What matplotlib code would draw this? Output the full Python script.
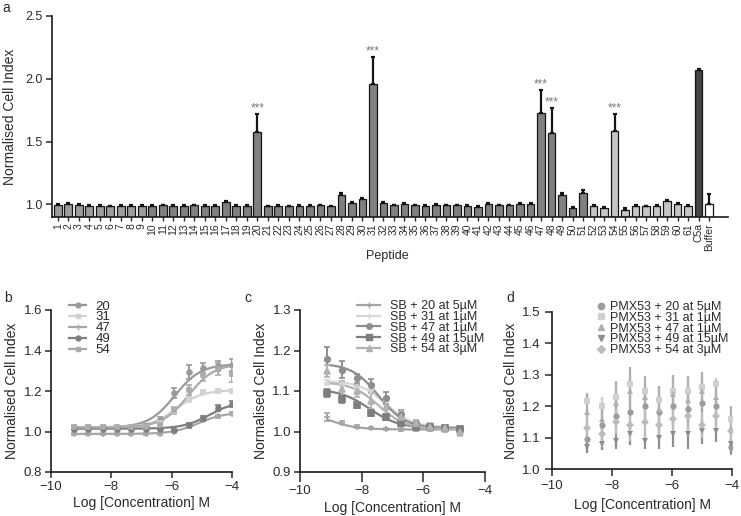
import numpy as np
import matplotlib
matplotlib.use("Agg")
import matplotlib.pyplot as plt

plt.rcParams['font.family'] = ['Liberation Sans', 'DejaVu Sans']
TXT = '#2a2a2a'
plt.rcParams['text.color'] = TXT
plt.rcParams['axes.labelcolor'] = TXT
plt.rcParams['xtick.color'] = TXT
plt.rcParams['ytick.color'] = TXT

# ---------------- panel a data ----------------
peptides = [str(i) for i in range(1, 62)] + ['C5a', 'Buffer']
cell_index = [0.997, 1.000, 0.997, 0.987, 0.987, 0.984, 0.987, 0.989, 0.989, 0.987,
              0.992, 0.989, 0.987, 0.992, 0.989, 0.989, 1.019, 0.989, 0.989, 1.575,
              0.984, 0.989, 0.984, 0.989, 0.987, 0.992, 0.984, 1.072, 1.011, 1.040,
              1.957, 1.013, 0.992, 1.000, 0.992, 0.987, 0.997, 0.992, 0.992, 0.987,
              0.981, 1.000, 0.992, 0.992, 1.003, 1.005, 1.730, 1.570, 1.072, 0.973,
              1.093, 0.990, 0.970, 1.585, 0.958, 0.984, 0.984, 0.990, 1.027, 1.000,
              0.990, 2.070, 1.005]
cell_err = [0.008, 0.008, 0.008, 0.006, 0.006, 0.006, 0.006, 0.006, 0.006, 0.006,
            0.006, 0.006, 0.006, 0.006, 0.006, 0.006, 0.008, 0.006, 0.006, 0.145,
            0.006, 0.006, 0.006, 0.006, 0.006, 0.006, 0.006, 0.016, 0.008, 0.010,
            0.220, 0.008, 0.006, 0.008, 0.006, 0.006, 0.008, 0.006, 0.006, 0.006,
            0.006, 0.008, 0.006, 0.006, 0.008, 0.008, 0.180, 0.200, 0.018, 0.010,
            0.025, 0.008, 0.008, 0.135, 0.010, 0.008, 0.006, 0.008, 0.010, 0.008,
            0.006, 0.010, 0.075]
significant = ['20', '31', '47', '48', '54']

# ---------------- panel b data ----------------
b_logc = [-9.25, -8.77, -8.29, -7.82, -7.34, -6.86, -6.39, -5.91, -5.43, -4.95, -4.48, -4.00]
b_labels = ['20', '31', '47', '49', '54']
b_20 = [1.020, 1.020, 1.020, 1.020, 1.020, 1.025, 1.055, 1.190, 1.295, 1.315, 1.325, 1.330]
b_31 = [1.020, 1.020, 1.020, 1.020, 1.020, 1.020, 1.040, 1.100, 1.160, 1.195, 1.200, 1.200]
b_47 = [0.988, 0.988, 0.988, 0.988, 0.988, 0.988, 0.990, 1.000, 1.025, 1.058, 1.075, 1.088]
b_49 = [1.014, 1.014, 1.014, 1.014, 1.014, 1.014, 1.012, 1.005, 1.030, 1.065, 1.115, 1.135]
b_54 = [1.020, 1.020, 1.020, 1.020, 1.020, 1.020, 1.030, 1.105, 1.205, 1.280, 1.310, 1.285]
b_20_err = [0.008, 0.008, 0.008, 0.008, 0.008, 0.010, 0.015, 0.025, 0.035, 0.025, 0.025, 0.030]
b_31_err = [0.006, 0.006, 0.006, 0.006, 0.006, 0.006, 0.008, 0.012, 0.015, 0.012, 0.012, 0.012]
b_47_err = [0.005, 0.005, 0.005, 0.005, 0.005, 0.005, 0.005, 0.006, 0.008, 0.008, 0.008, 0.008]
b_49_err = [0.006, 0.006, 0.006, 0.006, 0.006, 0.006, 0.006, 0.008, 0.010, 0.012, 0.015, 0.015]
b_54_err = [0.008, 0.008, 0.008, 0.008, 0.008, 0.008, 0.012, 0.018, 0.025, 0.030, 0.030, 0.040]
# fitted sigmoid parameters (bottom, top, logEC50, hill)
b_fit = [(1.020, 1.333, -5.90, 1.0), (1.020, 1.205, -5.85, 1.0), (0.988, 1.095, -5.10, 1.0),
         (1.014, 1.150, -4.75, 1.0), (1.020, 1.335, -5.45, 1.0)]

# ---------------- panel c data ----------------
c_logc = [-9.12, -8.64, -8.16, -7.69, -7.21, -6.73, -6.25, -5.78, -5.30, -4.82]
c_labels = ['SB + 20 at 5µM', 'SB + 31 at 1µM', 'SB + 47 at 1µM', 'SB + 49 at 15µM', 'SB + 54 at 3µM']
c_20 = [1.035, 1.022, 1.012, 1.008, 1.006, 1.005, 1.005, 1.005, 1.005, 1.005]
c_31 = [1.120, 1.118, 1.110, 1.100, 1.075, 1.045, 1.022, 1.012, 1.010, 1.008]
c_47 = [1.178, 1.153, 1.131, 1.115, 1.082, 1.044, 1.020, 1.010, 1.008, 1.005]
c_49 = [1.095, 1.080, 1.065, 1.045, 1.035, 1.020, 1.012, 1.010, 1.008, 1.005]
c_54 = [1.150, 1.105, 1.100, 1.075, 1.060, 1.035, 1.020, 1.012, 1.008, 1.000]
c_20_err = [0.010, 0.003, 0.003, 0.003, 0.003, 0.003, 0.003, 0.003, 0.003, 0.003]
c_31_err = [0.006, 0.006, 0.006, 0.006, 0.006, 0.006, 0.005, 0.005, 0.005, 0.005]
c_47_err = [0.030, 0.020, 0.012, 0.015, 0.015, 0.008, 0.006, 0.006, 0.006, 0.005]
c_49_err = [0.010, 0.010, 0.006, 0.006, 0.006, 0.006, 0.005, 0.005, 0.005, 0.005]
c_54_err = [0.015, 0.020, 0.015, 0.020, 0.020, 0.010, 0.008, 0.008, 0.008, 0.012]
# fitted sigmoid parameters (plateau at low conc, plateau at high conc, logIC50, hill)
c_fit = [(1.048, 1.005, -9.00, 1.0), (1.125, 1.010, -7.20, 1.0), (1.168, 1.008, -7.45, 1.0),
         (1.105, 1.008, -7.75, 0.9), (1.122, 1.006, -7.45, 1.0)]

# ---------------- panel d data ----------------
d_logc = [-8.82, -8.34, -7.87, -7.39, -6.91, -6.43, -5.96, -5.48, -5.00, -4.53, -4.05]
d_labels = ['PMX53 + 20 at 5µM', 'PMX53 + 31 at 1µM', 'PMX53 + 47 at 1µM',
            'PMX53 + 49 at 15µM', 'PMX53 + 54 at 3µM']
d_20 = [1.097, 1.140, 1.170, 1.180, 1.200, 1.180, 1.200, 1.190, 1.210, 1.200, 1.070]
d_31 = [1.215, 1.200, 1.230, 1.270, 1.250, 1.220, 1.250, 1.250, 1.260, 1.270, 1.160]
d_47 = [1.183, 1.160, 1.210, 1.250, 1.230, 1.190, 1.240, 1.220, 1.250, 1.230, 1.130]
d_49 = [1.070, 1.080, 1.090, 1.110, 1.090, 1.100, 1.110, 1.110, 1.120, 1.120, 1.080]
d_54 = [1.130, 1.110, 1.150, 1.140, 1.150, 1.140, 1.160, 1.170, 1.140, 1.170, 1.120]
d_20_err = [0.040, 0.050, 0.050, 0.070, 0.060, 0.060, 0.060, 0.060, 0.060, 0.060, 0.025]
d_31_err = [0.025, 0.030, 0.050, 0.045, 0.045, 0.045, 0.050, 0.045, 0.050, 0.020, 0.040]
d_47_err = [0.060, 0.050, 0.070, 0.075, 0.065, 0.075, 0.060, 0.075, 0.060, 0.055, 0.070]
d_49_err = [0.020, 0.020, 0.025, 0.035, 0.025, 0.035, 0.040, 0.045, 0.040, 0.035, 0.030]
d_54_err = [0.040, 0.040, 0.040, 0.050, 0.050, 0.040, 0.050, 0.050, 0.040, 0.040, 0.040]


def hill(x, lo, hi, logec, h):
    return lo + (hi - lo) / (1.0 + 10.0 ** ((logec - x) * h))


fig = plt.figure(figsize=(7.41, 5.16), dpi=100)

def style_axes(ax, lw=1.1):
    for s in ['top', 'right']:
        ax.spines[s].set_visible(False)
    for s in ['left', 'bottom']:
        ax.spines[s].set_linewidth(lw)
        ax.spines[s].set_color('#1a1a1a')

LEG_FS = 9
LEG_LS = -0.1
LAB_FS = 10

# ================= panel a =================
axa = fig.add_axes([52/741, 1-217/516, (728-52)/741, (217-16)/516])
x = np.arange(len(peptides))
bar_colors = []
for i, p in enumerate(peptides):
    if p == 'C5a':
        bar_colors.append('#454545')
    elif p == 'Buffer':
        bar_colors.append('#ffffff')
    elif i < 9:
        bar_colors.append('#9c9c9c')
    elif i < 51:
        bar_colors.append('#808080')
    else:
        bar_colors.append('#c6c6c6')
vals = np.array(cell_index)
errs = np.array(cell_err)
axa.bar(x, vals - 0.9, bottom=0.9, width=0.74, color=bar_colors,
        edgecolor='#151515', linewidth=0.9, zorder=2)
axa.errorbar(x, vals, yerr=[np.zeros_like(errs), errs], fmt='none',
             ecolor='#151515', elinewidth=1.6, capsize=1.6, capthick=1.6, zorder=3)
for p in significant:
    i = peptides.index(p)
    axa.text(i, vals[i] + errs[i] + 0.018, '***', ha='center', va='baseline',
             color='#7a7a7a', fontsize=8.5)
axa.set_xlim(-0.55, 63.8)
axa.set_ylim(0.9, 2.5)
axa.set_yticks([1.0, 1.5, 2.0, 2.5])
axa.set_yticklabels(['1.0', '1.5', '2.0', '2.5'], fontsize=9)
axa.set_xticks(x)
axa.set_xticklabels(peptides, rotation=90, fontsize=7.5)
axa.tick_params(axis='x', length=3, width=1, pad=1.5)
axa.tick_params(axis='y', length=4, width=1.1, pad=3)
style_axes(axa, 1.2)
axa.set_ylabel('Normalised Cell Index', fontsize=LAB_FS, labelpad=6)
axa.set_xlabel('Peptide', fontsize=9)
axa.xaxis.set_label_coords(0.496, -0.165)
fig.text(2/741, 1-1/516, 'a', fontsize=10, va='top', ha='left')

# ================= panel b =================
axb = fig.add_axes([51/741, 1-472/516, 181/741, 162/516])
b_series = [b_20, b_31, b_47, b_49, b_54]
b_errs = [b_20_err, b_31_err, b_47_err, b_49_err, b_54_err]
b_colors = ['#9a9a9a', '#d2d2d2', '#a6a6a6', '#7e7e7e', '#ababab']
b_markers = ['o', 's', '+', 'o', 's']
b_msize = [3.5, 2.5, 4, 3.5, 3.5]
xx_b = np.linspace(min(b_logc), max(b_logc), 200)
for ys, es, c, m, ms, fp, lab in zip(b_series, b_errs, b_colors, b_markers, b_msize, b_fit, b_labels):
    axb.errorbar(b_logc, ys, yerr=es, fmt=m, color=c, ms=ms, mew=1.2,
                 elinewidth=1.4, capsize=2.2, capthick=1.4, zorder=3)
    axb.plot(xx_b, hill(xx_b, *fp), color=c, lw=1.6, zorder=2)
    axb.plot([], [], color=c, marker=m, ms=ms, lw=1.6, label=lab)
axb.set_xlim(-10, -4)
axb.set_ylim(0.8, 1.6)
axb.set_xticks([-10, -8, -6, -4])
axb.set_yticks([0.8, 1.0, 1.2, 1.4, 1.6])
axb.set_yticklabels(['0.8', '1.0', '1.2', '1.4', '1.6'])
axb.tick_params(labelsize=9.5, length=4, width=1.1, pad=2.5)
style_axes(axb, 1.2)
axb.set_ylabel('Normalised Cell Index', fontsize=LAB_FS, labelpad=3)
axb.set_xlabel('Log [Concentration] M', fontsize=LAB_FS, labelpad=2)
axb.legend(loc='upper left', bbox_to_anchor=(0.10, 1.06), frameon=False, fontsize=LEG_FS + 0.5,
           handlelength=1.3, handletextpad=0.7, labelspacing=LEG_LS,
           borderpad=0, borderaxespad=0)
fig.text(4/741, 1-291/516, 'b', fontsize=10, va='top', ha='left')

# ================= panel c =================
axc = fig.add_axes([300/741, 1-472/516, 185/741, 162/516])
c_series = [c_20, c_31, c_47, c_49, c_54]
c_errs = [c_20_err, c_31_err, c_47_err, c_49_err, c_54_err]
c_colors = ['#a4a4a4', '#d6d6d6', '#8e8e8e', '#7e7e7e', '#b2b2b2']
c_markers = ['+', '+', 'o', 's', '^']
c_msize = [4, 4, 4, 4, 4]
xx_c = np.linspace(min(c_logc), max(c_logc), 200)
for ys, es, c, m, ms, fp, lab in zip(c_series, c_errs, c_colors, c_markers, c_msize, c_fit, c_labels):
    axc.errorbar(c_logc, ys, yerr=es, fmt=m, color=c, ms=ms, mew=1.2,
                 elinewidth=1.4, capsize=2.2, capthick=1.4, zorder=3)
    axc.plot(xx_c, hill(xx_c, *fp), color=c, lw=1.6, zorder=2)
    axc.plot([], [], color=c, marker=m, ms=ms, lw=1.6, label=lab)
axc.set_xlim(-10, -4)
axc.set_ylim(0.9, 1.3)
axc.set_xticks([-10, -8, -6, -4])
axc.set_yticks([0.9, 1.0, 1.1, 1.2, 1.3])
axc.set_yticklabels(['0.9', '1.0', '1.1', '1.2', '1.3'])
axc.tick_params(labelsize=9.5, width=1.1, pad=2.5)
axc.tick_params(axis='x', length=7)
axc.tick_params(axis='y', length=4)
style_axes(axc, 1.2)
axc.set_ylabel('Normalised Cell Index', fontsize=LAB_FS, labelpad=3)
axc.set_xlabel('Log [Concentration] M', fontsize=LAB_FS, labelpad=3)
axc.legend(loc='upper left', bbox_to_anchor=(0.31, 1.06), frameon=False, fontsize=LEG_FS,
           handlelength=1.8, handletextpad=0.8, labelspacing=LEG_LS,
           borderpad=0, borderaxespad=0)
fig.text(244/741, 1-291/516, 'c', fontsize=10, va='top', ha='left')

# ================= panel d =================
axd = fig.add_axes([552/741, 1-469/516, 180/741, 157/516])
d_series = [d_20, d_31, d_47, d_49, d_54]
d_errs = [d_20_err, d_31_err, d_47_err, d_49_err, d_54_err]
d_colors = ['#9c9c9c', '#d0d0d0', '#b0b0b0', '#8e8e8e', '#bcbcbc']
d_markers = ['o', 's', '^', 'v', 'D']
d_msize = [4.5, 4.5, 4.5, 4.5, 4]
for ys, es, c, m, ms, lab in zip(d_series, d_errs, d_colors, d_markers, d_msize, d_labels):
    axd.errorbar(d_logc, ys, yerr=es, fmt=m, color=c, ms=ms, mew=0,
                 elinewidth=1.6, capsize=2.8, capthick=1.6, zorder=3)
    axd.plot([], [], ls='none', color=c, marker=m, ms=ms, label=lab)
axd.set_xlim(-10, -4)
axd.set_ylim(1.0, 1.5)
axd.set_xticks([-10, -8, -6, -4])
axd.set_yticks([1.0, 1.1, 1.2, 1.3, 1.4, 1.5])
axd.set_yticklabels(['1.0', '1.1', '1.2', '1.3', '1.4', '1.5'])
axd.tick_params(labelsize=9.5, length=5, width=1.1, pad=3)
style_axes(axd, 1.2)
axd.set_ylabel('Normalised Cell Index', fontsize=LAB_FS, labelpad=3)
axd.set_xlabel('Log [Concentration] M', fontsize=LAB_FS, labelpad=4)
axd.legend(loc='upper left', bbox_to_anchor=(0.25, 1.07), frameon=False, fontsize=LEG_FS,
           handlelength=0.6, handletextpad=0.45, labelspacing=LEG_LS,
           borderpad=0, borderaxespad=0)
fig.text(506/741, 1-291/516, 'd', fontsize=10, va='top', ha='left')

fig.savefig('out.png', dpi=100)
